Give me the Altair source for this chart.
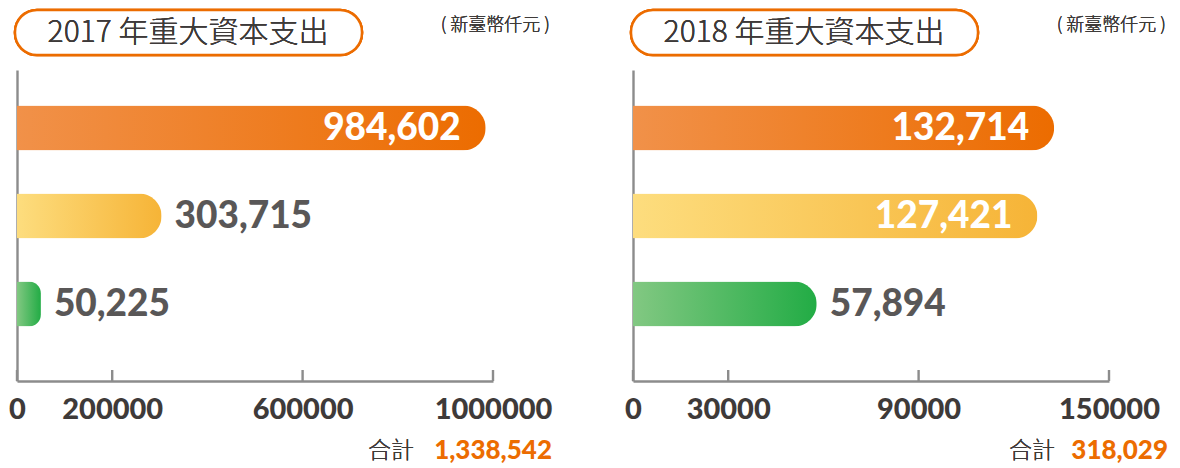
import altair as alt
import pandas as pd

# ---- data ----
categories = ["項目一", "項目二", "項目三"]
values_2017 = [984602, 303715, 50225]
values_2018 = [132714, 127421, 57894]
ticks_2017 = [0, 200000, 600000, 1000000]
ticks_2018 = [0, 30000, 90000, 150000]
titles = ["2017 年重大資本支出", "2018 年重大資本支出"]
unit_text = "( 新臺幣仟元 )"
total_label = "合計"

# ---- styles ----
gradients = [
    ("#f19149", "#ec6c00"),
    ("#fddd7e", "#f6b437"),
    ("#82c882", "#22ac45"),
]
FONT_NUM = "Lato"
FONT_CJK = "Noto Sans CJK TC"
DARK = "#3e3a39"
GRAY = "#595757"
ORANGE = "#ec6c00"
AXIS_GRAY = "#8c8c8c"
W, H = 476, 311


def panel(values, ticks, title, tot_lbl_x):
    dmax = ticks[-1]
    df = pd.DataFrame({"cat": categories, "value": values,
                       "order": list(range(len(categories)))})
    tdf = pd.DataFrame({"tick": ticks})
    x = alt.X("value:Q", scale=alt.Scale(domain=[0, dmax], nice=False, zero=True),
              axis=alt.Axis(values=ticks, title=None, grid=False, tickSize=0,
                            domainColor=AXIS_GRAY, domainWidth=2.4,
                            labelFont=FONT_NUM, labelFontWeight=900, labelFontSize=29,
                            labelColor=DARK, labelPadding=14, format="d",
                            labelFlush=False))
    y = alt.Y("cat:N", sort=categories,
              scale=alt.Scale(domain=categories, paddingInner=0.489,
                              paddingOuter=0.5115, align=0.394),
              axis=alt.Axis(title=None, labels=False, ticks=False, grid=False,
                            domainColor=AXIS_GRAY, domainWidth=2.4))
    base = alt.Chart(df)
    layers = []
    for i, (c0, c1) in enumerate(gradients):
        grad = alt.LinearGradient(
            gradient="linear",
            stops=[alt.GradientStop(color=c0, offset=0),
                   alt.GradientStop(color=c1, offset=1)],
            x1=0, x2=1, y1=0, y2=0)
        layers.append(
            base.transform_filter(alt.datum.order == i)
            .mark_bar(color=grad, cornerRadiusEnd=22.5)
            .encode(x=x, y=y)
        )
    lab = base.transform_calculate(frac=alt.datum.value / dmax)
    inside = lab.transform_filter(alt.datum.frac > 0.5).mark_text(
        align="right", baseline="middle", dx=-25, dy=1, font=FONT_NUM,
        fontWeight=900, fontSize=37, color="white"
    ).encode(x=alt.X("value:Q"), y=alt.Y("cat:N", sort=categories),
             text=alt.Text("value:Q", format=","))
    outside = lab.transform_filter(alt.datum.frac <= 0.5).mark_text(
        align="left", baseline="middle", dx=13, dy=1, font=FONT_NUM,
        fontWeight=900, fontSize=37, color=GRAY
    ).encode(x=alt.X("value:Q"), y=alt.Y("cat:N", sort=categories),
             text=alt.Text("value:Q", format=","))
    tick_rules = alt.Chart(tdf).mark_rule(color=AXIS_GRAY, strokeWidth=2.4).encode(
        x=alt.X("tick:Q"), y=alt.value(H - 11), y2=alt.value(H))
    # title box
    box = alt.Chart(df).mark_rect(
        fill="white", stroke=ORANGE, strokeWidth=2.5, cornerRadius=22
    ).encode(x=alt.value(-2), x2=alt.value(345), y=alt.value(-60), y2=alt.value(-15))
    ttl = alt.Chart(df).mark_text(
        font=FONT_CJK, fontSize=30, fontWeight=300, color=DARK, align="center",
        baseline="middle", text=title
    ).encode(x=alt.value(171), y=alt.value(-37))
    unit = alt.Chart(df).mark_text(
        font=FONT_CJK, fontSize=18, fontWeight=300, color=DARK, align="right",
        baseline="middle", text=unit_text
    ).encode(x=alt.value(533), y=alt.value(-44))
    tot_lbl = alt.Chart(df).mark_text(
        font=FONT_CJK, fontSize=23, fontWeight=300, color=DARK, align="right",
        baseline="middle", text=total_label
    ).encode(x=alt.value(tot_lbl_x), y=alt.value(381))
    tot_val = base.transform_aggregate(total="sum(value)").mark_text(
        font=FONT_NUM, fontWeight=900, fontSize=26, color=ORANGE, align="right",
        baseline="middle"
    ).encode(x=alt.value(535), y=alt.value(381),
             text=alt.Text("total:Q", format=","))
    return alt.layer(*layers, inside, outside, tick_rules, box, ttl, unit,
                     tot_lbl, tot_val).properties(
        width=W, height=H,
        view=alt.ViewBackground(strokeWidth=0, strokeOpacity=0))


left = panel(values_2017, ticks_2017, titles[0], 397)
right = panel(values_2018, ticks_2018, titles[1], 422)

chart = alt.hconcat(left, right, spacing=72).properties(
    padding={"left": 0, "top": 0, "right": 0, "bottom": 0}
).configure_view(strokeWidth=0, strokeOpacity=0).configure(font=FONT_NUM)

chart.save("out.html", embed_options={"renderer": "svg", "actions": False})
